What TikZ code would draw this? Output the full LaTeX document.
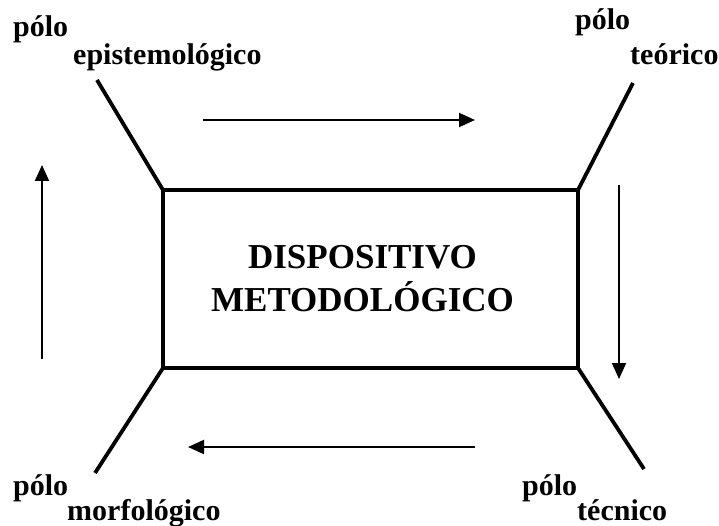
\documentclass[tikz,border=0pt]{standalone}
\usepackage{fontspec}
\setmainfont{Liberation Serif}
\usetikzlibrary{arrows.meta}

\tikzset{
  polo/.style={anchor=base west, inner sep=0pt, font=\fontsize{30}{30}\selectfont\bfseries},
  haste/.style={line width=3.8pt},
  seta/.style={line width=1.9pt, ->},
}

\begin{document}
\begin{tikzpicture}[x=1pt, y=-1pt, >={Triangle[length=16pt,width=14pt]}]
    \useasboundingbox (0,0) rectangle (719,526);

    % dispositivo central
    \node[draw, line width=3.8pt, outer sep=0pt, inner sep=0pt,
          minimum width=415pt, minimum height=178pt, align=center,
          font=\fontsize{35}{43}\selectfont\bfseries] (disp) at (370.5,279)
          {DISPOSITIVO\hspace*{16pt}\\METODOLÓGICO\hspace*{16pt}};

    % pólos
    \node[polo] (poloEpi) at (13,37) {pólo};
    \node[polo] (epi) at (73,65) {epistemológico};
    \node[polo] (poloTeo) at (575,30) {pólo};
    \node[polo] (teo) at (630,65) {teórico};
    \node[polo] (poloMor) at (13,495) {pólo};
    \node[polo] (mor) at (67,520) {morfológico};
    \node[polo] (poloTec) at (522,495) {pólo};
    \node[polo] (tec) at (577,520) {técnico};

    % hastes
    \coordinate (hEpi) at (97,80);
    \coordinate (hTeo) at (633,83);
    \coordinate (hMor) at (95,473);
    \coordinate (hTec) at (644,469);
    \draw[haste] (disp.north west) -- (hEpi);
    \draw[haste] (disp.north east) -- (hTeo);
    \draw[haste] (disp.south west) -- (hMor);
    \draw[haste] (disp.south east) -- (hTec);

    % setas
    \coordinate (s1a) at (203,120); \coordinate (s1b) at (475,120);
    \coordinate (s2a) at (619,185); \coordinate (s2b) at (619,379);
    \coordinate (s3a) at (475,447); \coordinate (s3b) at (188,447);
    \coordinate (s4a) at (42,359);  \coordinate (s4b) at (42,165);
    \draw[seta] (s1a) -- (s1b);
    \draw[seta] (s2a) -- (s2b);
    \draw[seta] (s3a) -- (s3b);
    \draw[seta] (s4a) -- (s4b);
\end{tikzpicture}
\end{document}
